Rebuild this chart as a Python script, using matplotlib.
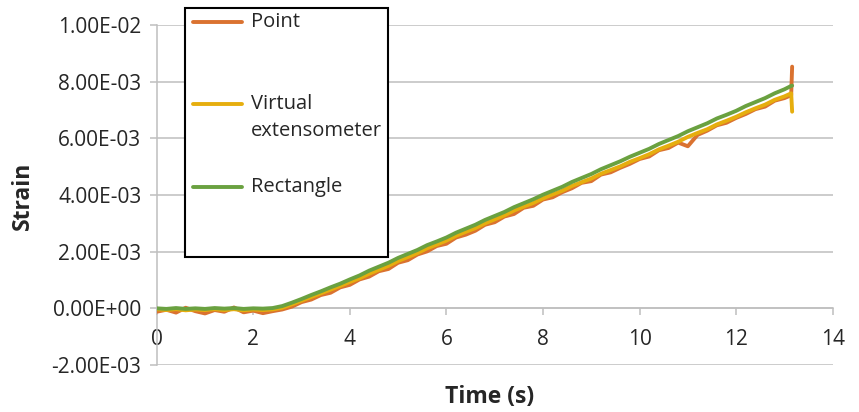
import matplotlib
matplotlib.use("Agg")
import matplotlib.pyplot as plt
from matplotlib.ticker import FuncFormatter
from matplotlib.patches import Rectangle
from matplotlib.lines import Line2D

plt.rcParams['font.family'] = ['Open Sans', 'DejaVu Sans']

# time (s)
t_s = [0.0, 0.2, 0.4, 0.6, 0.8, 1.0, 1.2, 1.4, 1.6, 1.8,
       2.0, 2.2, 2.4, 2.6, 2.8, 3.0, 3.2, 3.4, 3.6, 3.8,
       4.0, 4.2, 4.4, 4.6, 4.8, 5.0, 5.2, 5.4, 5.6, 5.8,
       6.0, 6.2, 6.4, 6.6, 6.8, 7.0, 7.2, 7.4, 7.6, 7.8,
       8.0, 8.2, 8.4, 8.6, 8.8, 9.0, 9.2, 9.4, 9.6, 9.8,
       10.0, 10.2, 10.4, 10.6, 10.8, 11.0, 11.2, 11.4, 11.6, 11.8,
       12.0, 12.2, 12.4, 12.6, 12.8, 13.0, 13.14, 13.16]

# strain values in units of 1e-3
point = [-0.12, -0.05, -0.15, 0.02, -0.10, -0.18, -0.06, -0.12, 0.03, -0.14,
         -0.08, -0.17, -0.10, -0.04, 0.06, 0.22, 0.31, 0.47, 0.55, 0.74,
         0.83, 1.02, 1.12, 1.31, 1.39, 1.61, 1.70, 1.90, 2.01, 2.20,
         2.28, 2.50, 2.60, 2.74, 2.95, 3.04, 3.24, 3.33, 3.55, 3.62,
         3.84, 3.92, 4.10, 4.24, 4.43, 4.49, 4.72, 4.80, 4.96, 5.10,
         5.27, 5.36, 5.58, 5.66, 5.85, 5.72, 6.12, 6.27, 6.46, 6.55,
         6.72, 6.86, 7.03, 7.12, 7.33, 7.42, 7.52, 8.53]

virtual = [-0.03, -0.06, -0.03, -0.07, -0.04, -0.06, -0.03, -0.06, -0.03, -0.07,
           -0.04, -0.06, -0.04, 0.02, 0.14, 0.27, 0.40, 0.53, 0.66, 0.79,
           0.93, 1.06, 1.22, 1.36, 1.50, 1.67, 1.81, 1.95, 2.12, 2.25,
           2.39, 2.56, 2.70, 2.83, 3.00, 3.14, 3.28, 3.45, 3.59, 3.72,
           3.88, 4.02, 4.15, 4.32, 4.45, 4.58, 4.75, 4.88, 5.01, 5.17,
           5.30, 5.44, 5.61, 5.74, 5.88, 6.05, 6.19, 6.32, 6.49, 6.62,
           6.76, 6.92, 7.06, 7.19, 7.36, 7.48, 7.59, 6.94]

rectangle = [0.00, -0.02, 0.01, -0.02, 0.00, -0.02, 0.01, -0.01, 0.01, -0.02,
             0.00, -0.01, 0.01, 0.08, 0.20, 0.33, 0.47, 0.60, 0.74, 0.87,
             1.02, 1.16, 1.33, 1.47, 1.61, 1.78, 1.92, 2.06, 2.23, 2.36,
             2.50, 2.67, 2.81, 2.95, 3.12, 3.26, 3.40, 3.57, 3.71, 3.85,
             4.01, 4.15, 4.29, 4.46, 4.60, 4.74, 4.91, 5.05, 5.19, 5.35,
             5.49, 5.63, 5.80, 5.94, 6.08, 6.25, 6.39, 6.53, 6.70, 6.83,
             6.97, 7.14, 7.28, 7.42, 7.59, 7.73, 7.85, 7.86]

names = ["Point", "Virtual\nextensometer", "Rectangle"]
colors = ["#DA7230", "#E6AE0E", "#6AA140"]
x_ticks = [0, 2, 4, 6, 8, 10, 12, 14]
y_ticks = [-0.002, 0, 0.002, 0.004, 0.006, 0.008, 0.010]

W, H = 859, 412
fig = plt.figure(figsize=(W / 100, H / 100), dpi=100)
ax = fig.add_axes([156.7 / W, 47 / H, 676 / W, 340 / H])

for vals, c in zip([point, virtual, rectangle], colors):
    ax.plot(t_s, [v * 1e-3 for v in vals], color=c, lw=2.8,
            solid_joinstyle='round', solid_capstyle='round', zorder=3)

grey = "#BFBFBF"
txt = "#262626"
ax.set_xlim(0, 14)
ax.set_ylim(-0.002, 0.010)
ax.set_xticks(x_ticks)
ax.set_yticks(y_ticks)
ax.yaxis.set_major_formatter(FuncFormatter(lambda v, p: f"{v:.2E}"))
ax.grid(axis='y', color=grey, lw=1.1)
ax.set_axisbelow(True)
for s in ['top', 'right']:
    ax.spines[s].set_visible(False)
ax.spines['bottom'].set_position(('data', 0))
ax.spines['left'].set_color(grey)
ax.spines['bottom'].set_color(grey)
ax.spines['left'].set_linewidth(1.1)
ax.spines['bottom'].set_linewidth(1.1)
ax.tick_params(axis='y', colors=grey, labelcolor=txt, labelsize=15,
               length=5, width=1.1, pad=6)
ax.tick_params(axis='x', colors=grey, labelcolor=txt, labelsize=15,
               length=5, width=1.1, pad=10)

fig.text(490 / W, 1 - 397 / H, "Time (s)", ha='center', va='center',
         fontsize=16.5, fontweight='bold', color=txt)
fig.text(23 / W, 1 - 196 / H, "Strain", ha='center', va='center',
         rotation=90, fontsize=16.5, fontweight='bold', color=txt)

# legend box drawn by hand to follow the original layout
fig.add_artist(Rectangle((185 / W, 1 - 257 / H), 203 / W, 249 / H,
                         transform=fig.transFigure, facecolor='white',
                         edgecolor='black', lw=1.5, zorder=5))
handle_y = [22, 104, 187]
text_y = [22, 117.5, 187]
for name, c, hy, ty in zip(names, colors, handle_y, text_y):
    fig.add_artist(Line2D([193 / W, 242 / W], [1 - hy / H, 1 - hy / H],
                          transform=fig.transFigure, color=c, lw=2.8,
                          solid_capstyle='round', zorder=6))
    fig.text(251 / W, 1 - ty / H, name, ha='left', va='center',
             fontsize=14.5, color=txt, linespacing=1.45, zorder=6)

fig.savefig("out.png", dpi=100)
